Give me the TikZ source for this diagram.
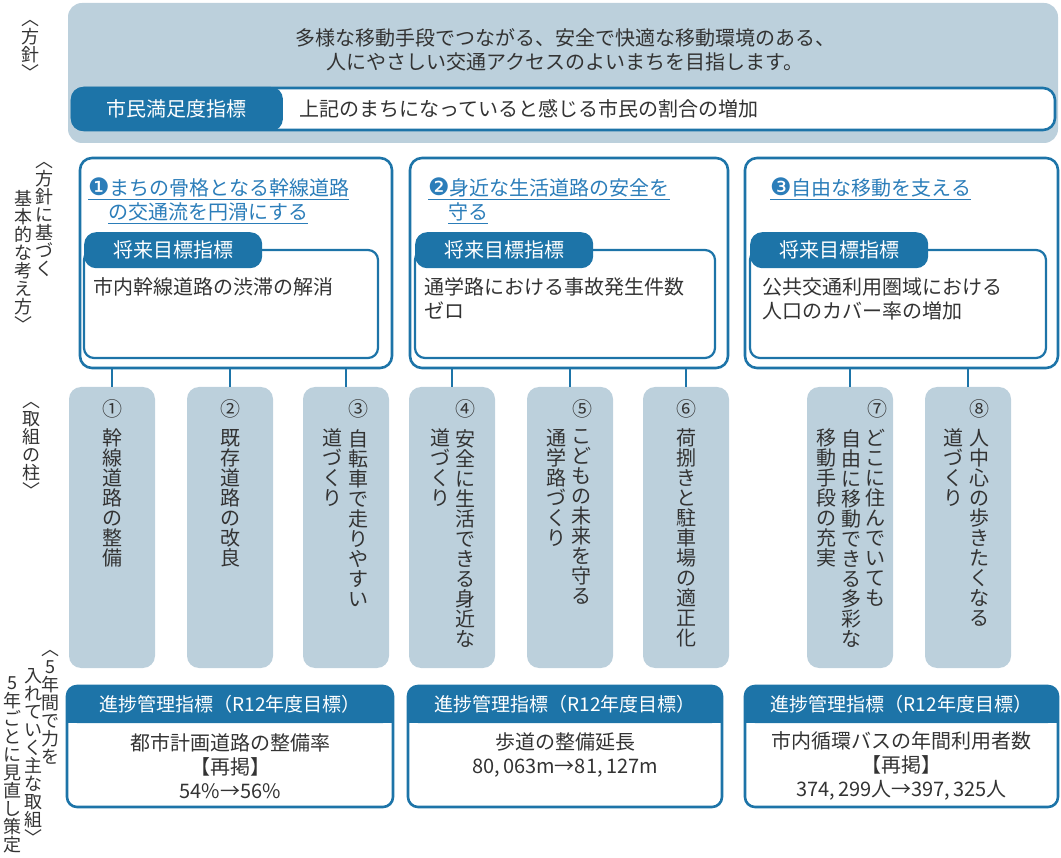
\documentclass[tikz,border=0pt]{standalone}
\usepackage{fontspec}
\setmainfont{Noto Sans CJK JP}
\newfontfamily\dingfont{DejaVu Sans}
\usetikzlibrary{positioning}
\definecolor{planblue}{HTML}{1D74A8}
\definecolor{titleblue}{HTML}{2B7DB9}
\definecolor{paleblue}{HTML}{BCD0DC}
\definecolor{inkgray}{HTML}{333333}
\newcommand\tatecol[1]{\edef\tatetmp{#1}\vtop{\hsize=1em \baselineskip=1em \lineskiplimit=-\maxdimen \expandafter\tateloop\tatetmp\relax}}
\def\tateloop#1{\ifx#1\relax\else\hbox to 1em{\hss#1\hss}\expandafter\tateloop\fi}
\newcommand\goalnum[1]{{\dingfont\fontsize{24pt}{24pt}\selectfont #1}}
\tikzset{
  txt/.style={font=\fontsize{20pt}{24pt}\selectfont, text=inkgray, inner sep=0pt},
  goaltitle/.style={txt, text=titleblue, align=left, anchor=north west},
  tate/.style={anchor=north, inner sep=0pt, text=inkgray, font=\fontsize{20pt}{20pt}\selectfont},
  tatelabel/.style={tate, text=black!80, font=\fontsize{18pt}{18pt}\selectfont},
  goalbox/.style={draw=planblue, line width=2.6pt, rounded corners=12pt, minimum height=210pt, inner sep=0pt},
  innerbox/.style={draw=planblue, line width=2.2pt, rounded corners=10pt, minimum height=108pt, inner sep=0pt},
  tab/.style={fill=planblue, rounded corners=12pt, text=white, minimum width=178pt, minimum height=36pt, inner sep=0pt, font=\fontsize{20pt}{24pt}\selectfont},
  pillar/.style={fill=paleblue, rounded corners=12pt, minimum width=86pt, minimum height=281pt, inner sep=0pt},
  link/.style={draw=planblue, line width=2.4pt},
  kpibox/.style={draw=planblue, line width=2.6pt, rounded corners=10pt, minimum height=121pt, inner sep=0pt},
  kpihead/.style={fill=planblue, rounded corners=10pt, minimum height=37pt, inner sep=0pt},
}

\begin{document}
\begin{tikzpicture}[x=1pt, y=-1pt]
\useasboundingbox (0,0) rectangle (1061,858);

\node[fill=paleblue, rounded corners=14pt, minimum width=990pt, minimum height=140pt] (policybg) at (563,73) {};
\node[txt, align=center] (policy) at (565,50) {多様な移動手段でつながる、安全で快適な移動環境のある、\\人にやさしい交通アクセスのよいまちを目指します。};
\node[draw=planblue, line width=2.6pt, fill=white, rounded corners=12pt, minimum width=983pt, minimum height=42pt] (sbar) at (563.5,109) {};
\node[tab, anchor=west, minimum width=212pt, minimum height=44pt] (slabel) at (sbar.west) {市民満足度指標};
\node[txt, right=16pt of slabel] (stext) {上記のまちになっていると感じる市民の割合の増加};

\node[goalbox, minimum width=312pt] (g1) at (236,263) {};
\node[goalbox, minimum width=318pt] (g2) at (569,263) {};
\node[goalbox, minimum width=313pt] (g3) at (901.5,263) {};
\node[goaltitle] (t1) at (88,178) {\underline{\goalnum{❶}まちの骨格となる幹線道路}\\\hspace*{20pt}\underline{の交通流を円滑にする}};
\node[goaltitle] (t2) at (428,178) {\underline{\goalnum{❷}身近な生活道路の安全を}\\\hspace*{20pt}\underline{守る}};
\node[goaltitle] (t3) at (770,178) {\underline{\goalnum{❸}自由な移動を支える}};

\node[innerbox, minimum width=294pt] (i1) at (231,304) {};
\node[innerbox, minimum width=300pt] (i2) at (565,304) {};
\node[innerbox, minimum width=296pt] (i3) at (898,304) {};
\foreach \lx [count=\i] in {84,415,750}
  \node[tab, anchor=north west] (k\i) at (\lx,232) {将来目標指標};
\node[txt, anchor=north west, align=left] (m1) at (93,277) {市内幹線道路の渋滞の解消};
\node[txt, anchor=north west, align=left] (m2) at (424,277) {通学路における事故発生件数\\ゼロ};
\node[txt, anchor=north west, align=left] (m3) at (762,277) {公共交通利用圏域における\\人口のカバー率の増加};

\foreach \cx [count=\i] in {112,230,346,452,570,686,850,968}
  \node[pillar] (p\i) at (\cx,527.5) {};
\foreach \i/\g in {1/1,2/1,3/1,4/2,5/2,6/2,7/3,8/3}
  \draw[link] (p\i.north) -- (p\i.north |- g\g.south);
\foreach \cx/\num [count=\i] in {112/①,230/②,358/③,465/④,582/⑤,686/⑥,877/⑦,979/⑧}
  \node[txt] (n\i) at (\cx,409) {\num};
\foreach \cx/\words [count=\i] in {112/幹線道路の整備,230/既存道路の改良,358/自転車で走りやすい,332/道づくり,465/安全に生活できる身近な,440/道づくり,581/こどもの未来を守る,556/通学路づくり,686/荷捌きと駐車場の適正化,875/どこに住んでいても,851/自由に移動できる多彩な,826/移動手段の充実,979/人中心の歩きたくなる,953/道づくり}
  \node[tate] (c\i) at (\cx,429) {\tatecol{\words}};

\foreach \cx/\w [count=\i] in {230/326,565/314,901.5/313}{
  \node[kpihead, minimum width=\w pt] (h\i) at (\cx,704.5) {};
  \fill[planblue] (h\i.west) rectangle (h\i.south east);
  \node[txt, text=white, font=\fontsize{19pt}{24pt}\selectfont] (hl\i) at (h\i) {進捗管理指標（R12年度目標）};
  \node[kpibox, minimum width=\w pt] (b\i) at (\cx,746.5) {};
}
\node[txt, align=center] (v1) at (230,766) {都市計画道路の整備率\\【再掲】\\54\%→56\%};
\node[txt, align=center] (v2) at (565,754.5) {歩道の整備延長\\80,\,063m→81,\,127m};
\node[txt, align=center] (v3) at (901.5,766) {市内循環バスの年間利用者数\\【再掲】\\374,\,299人→397,\,325人};

\node[tatelabel] (l1) at (30,20) {\tatecol{︿方針﹀}};
\node[tatelabel] (l2) at (44,162) {\tatecol{︿方針に基づく}};
\node[tatelabel] (l3) at (23,190) {\tatecol{基本的な考え方﹀}};
\node[tatelabel] (l4) at (32,402) {\tatecol{︿取組の柱﹀}};
\node[tatelabel] (l5) at (50,650) {\tatecol{︿5年間で力を}};
\node[tatelabel] (l6) at (33,668) {\tatecol{入れていく主な取組﹀}};
\node[tatelabel] (l7) at (12,676) {\tatecol{5年ごとに見直し策定}};
\end{tikzpicture}
\end{document}
